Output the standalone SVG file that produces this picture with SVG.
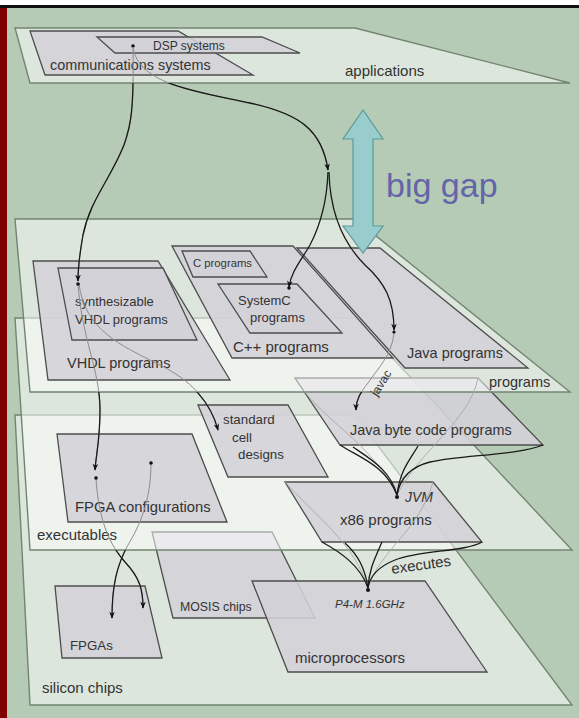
<svg xmlns="http://www.w3.org/2000/svg" width="579" height="718" viewBox="0 0 579 718">
<defs>
<style>
.layer{fill:#fff;fill-opacity:.53;stroke:#718571;stroke-width:1.4}
.box{fill:#d3d1d8;fill-opacity:.88;stroke:#4d4d4d;stroke-width:1.3}
text{font-family:"Liberation Sans",Arial,sans-serif;fill:#333}
.it{font-style:italic}
.dark{fill:none;stroke:#1a1a1a;stroke-width:1.3}
.faint{fill:none;stroke:#8e8e8e;stroke-width:1}
.ghost{fill:none;stroke:#a9a9a9;stroke-width:.9}
.arr{marker-end:url(#ah)}
.dot{fill:#111}
</style>
<marker id="ah" viewBox="0 0 10 10" refX="9" refY="5" markerWidth="7" markerHeight="7" markerUnits="userSpaceOnUse" orient="auto">
<path d="M0,1 L10,5 L0,9 L3,5 Z" fill="#111"/>
</marker>
<!-- regions outside each plane: a connector is dark only where no upper plane covers it -->
<clipPath id="outApp"><path clip-rule="evenodd" d="M0,0H579V718H0Z M15,28L355,28L570,83L30,83Z"/></clipPath>
<clipPath id="outProg"><path clip-rule="evenodd" d="M0,0H579V718H0Z M15,219L355,219L570,392L30,392Z"/></clipPath>
<clipPath id="outExec"><path clip-rule="evenodd" d="M0,0H579V718H0Z M15,318L355,318L572,550L30,550Z"/></clipPath>
<!-- connector geometry -->
<path id="c1" d="M133,47 C134,110 131,125 124,145 C110,180 90,200 83,235 C80,252 78,265 78,281"/>
<path id="c2" d="M133,47 C138,85 200,92 250,103 C300,114 322,130 328,170"/>
<path id="c3" d="M328,172 C327,200 322,222 310,245 C300,262 291,272 289,287"/>
<path id="c4" d="M329,172 C330,215 345,245 365,265 C385,283 394,300 394,330"/>
<path id="c5" d="M78,284 C82,340 100,370 100,410 C100,440 96,455 95,470"/>
<path id="c6" d="M79,284 C85,330 120,345 160,365 C190,380 210,400 218,430"/>
<path id="c7" d="M394,333 C392,355 378,368 368,383 C360,393 356,400 356,410"/>
<path id="c8" d="M96,478 C98,510 105,540 125,562 C140,578 143,590 143,608"/>
<path id="c9" d="M151,463 C151,500 140,525 128,545 C117,565 112,585 112,618"/>
</defs>

<!-- page frame -->
<rect x="0" y="0" width="579" height="718" fill="#b5cbb5"/>
<rect x="0" y="0" width="579" height="5" fill="#fff"/>
<rect x="0" y="5" width="579" height="3" fill="#111"/>
<rect x="0" y="8" width="7" height="710" fill="#800000"/>

<!-- silicon chips plane -->
<g id="silicon-chips">
<polygon class="layer" points="15,415 355,415 572,705 30,705"/>
<text x="42" y="693" font-size="15">silicon chips</text>
</g>
<g id="mosis-chips">
<polygon class="box" points="152,532 272,532 315,618 173,618"/>
<text x="180" y="611" font-size="12.3">MOSIS chips</text>
</g>
<g id="microprocessors">
<polygon class="box" points="252,581 425,581 487,672 288,672"/>
<text x="295" y="663" font-size="15">microprocessors</text>
<text class="it" x="335" y="608" font-size="11.5">P4-M 1.6GHz</text>
</g>
<g id="fpgas">
<polygon class="box" points="55,586 145,586 162,658 62,658"/>
<text x="70" y="650" font-size="13.3">FPGAs</text>
</g>

<!-- executables plane -->
<g id="executables">
<polygon class="layer" points="15,318 355,318 572,550 30,550"/>
<text x="37" y="540" font-size="15">executables</text>
</g>
<g id="standard-cell-designs">
<polygon class="box" points="198,405 288,405 328,477 228,477"/>
<text x="223" y="424" font-size="13.3">standard</text>
<text x="232" y="442" font-size="13.3">cell</text>
<text x="238" y="459" font-size="13.3">designs</text>
</g>
<g id="fpga-configurations">
<polygon class="box" points="57,434 192,434 227,522 68,522"/>
<text x="75" y="512" font-size="14.8">FPGA configurations</text>
</g>
<g id="java-byte-code-programs">
<polygon class="box" points="295,378 478,378 543,445 340,445"/>
<text x="350" y="435" font-size="14.4">Java byte code programs</text>
</g>
<g id="x86-programs">
<polygon class="box" points="285,482 433,482 482,542 322,542"/>
<text x="340" y="525" font-size="15">x86 programs</text>
<text class="it" x="405" y="502" font-size="14">JVM</text>
</g>

<!-- programs plane -->
<g id="programs">
<polygon class="layer" points="15,219 355,219 570,392 30,392"/>
<text x="489" y="387" font-size="14.5">programs</text>
</g>
<g id="vhdl-programs">
<polygon class="box" points="33,261 158,261 230,380 48,380"/>
<text x="67" y="368" font-size="14.5">VHDL programs</text>
</g>
<g id="synthesizable-vhdl-programs">
<polygon class="box" points="58,268 163,268 197,340 72,340"/>
<text x="75" y="306" font-size="13">synthesizable</text>
<text x="75" y="324" font-size="13">VHDL programs</text>
</g>
<g id="cpp-programs">
<polygon class="box" points="172,246 293,246 393,358 232,358"/>
<text x="233" y="352" font-size="15">C++ programs</text>
</g>
<g id="c-programs">
<polygon class="box" points="182,251 250,251 267,277 193,277"/>
<text x="193" y="267" font-size="11.3">C programs</text>
</g>
<g id="systemc-programs">
<polygon class="box" points="218,284 297,284 342,333 250,333"/>
<text x="238" y="305" font-size="13">SystemC</text>
<text x="250" y="322" font-size="13">programs</text>
</g>
<g id="java-programs">
<polygon class="box" points="297,248 380,248 528,368 405,368"/>
<text x="407" y="358" font-size="14.5">Java programs</text>
</g>

<!-- applications plane -->
<g id="applications">
<polygon class="layer" points="15,28 355,28 570,83 30,83"/>
<text x="345" y="76" font-size="15">applications</text>
</g>
<g id="communications-systems">
<polygon class="box" points="30,31 178,31 253,75 45,75"/>
<text x="50" y="70" font-size="14.4">communications systems</text>
</g>
<g id="dsp-systems">
<polygon class="box" points="97,37 262,37 300,53 115,53"/>
<text x="153" y="50" font-size="12">DSP systems</text>
<circle class="dot" cx="133" cy="46" r="1.8"/>
</g>

<!-- the distance between applications and programs -->
<g id="big-gap">
<polygon points="363,110 383,139 373,139 373,226 383,226 363,253 343,226 353,226 353,139 343,139" fill="#99cccc" stroke="#5b9a9a" stroke-width="1.2"/>
<text x="386" y="197" font-size="34" style="fill:#6464a8">big gap</text>
</g>

<g id="connectors">
<use href="#c1" class="faint"/>
<use href="#c1" class="dark arr" clip-path="url(#outApp)"/>
<use href="#c2" class="faint"/>
<use href="#c2" class="dark arr" clip-path="url(#outApp)"/>
<use href="#c3" class="dark arr"/>
<use href="#c4" class="dark arr"/>
<use href="#c5" class="faint"/>
<use href="#c5" class="dark arr" clip-path="url(#outProg)"/>
<use href="#c6" class="faint"/>
<use href="#c6" class="dark arr" clip-path="url(#outProg)"/>
<use href="#c7" class="faint"/>
<use href="#c7" class="dark arr" clip-path="url(#outProg)"/>
<use href="#c8" class="faint"/>
<use href="#c8" class="dark arr" clip-path="url(#outExec)"/>
<use href="#c9" class="faint"/>
<use href="#c9" class="dark arr" clip-path="url(#outExec)"/>
<!-- Java byte code programs run on the JVM -->
<path class="ghost" d="M295,378 C320,420 370,440 397,495"/>
<path class="ghost" d="M478,378 C470,420 420,450 397,495"/>
<path class="dark" d="M340,445 C360,458 385,465 397,495"/>
<path class="dark" d="M353,447 C372,460 390,470 397,495"/>
<path class="dark" d="M418,446 C410,460 400,470 397,495"/>
<path class="dark" d="M543,445 C520,455 460,455 430,462 C410,467 400,478 397,495"/>
<!-- x86 programs execute on the P4-M -->
<path class="ghost" d="M285,482 C320,520 355,545 368,588"/>
<path class="ghost" d="M433,482 C420,530 380,550 368,588"/>
<path class="dark" d="M322,542 C340,552 360,565 368,588"/>
<path class="dark" d="M345,543 C358,555 365,568 368,588"/>
<path class="dark" d="M382,542 C374,560 369,570 368,588"/>
<path class="dark" d="M482,542 C465,552 420,550 395,560 C380,566 370,575 368,588"/>
<circle class="dot" cx="78" cy="284" r="1.8"/>
<circle class="dot" cx="289" cy="288" r="1.8"/>
<circle class="dot" cx="394" cy="332" r="1.6"/>
<circle class="dot" cx="96" cy="478" r="1.8"/>
<circle class="dot" cx="151" cy="463" r="1.8"/>
<circle class="dot" cx="397" cy="497" r="2"/>
<circle class="dot" cx="368" cy="590" r="2"/>
<text x="0" y="0" font-size="12" transform="translate(377,397) rotate(-58)">javac</text>
<text x="0" y="0" font-size="15" transform="translate(392,574) rotate(-8)">executes</text>
</g>
</svg>
